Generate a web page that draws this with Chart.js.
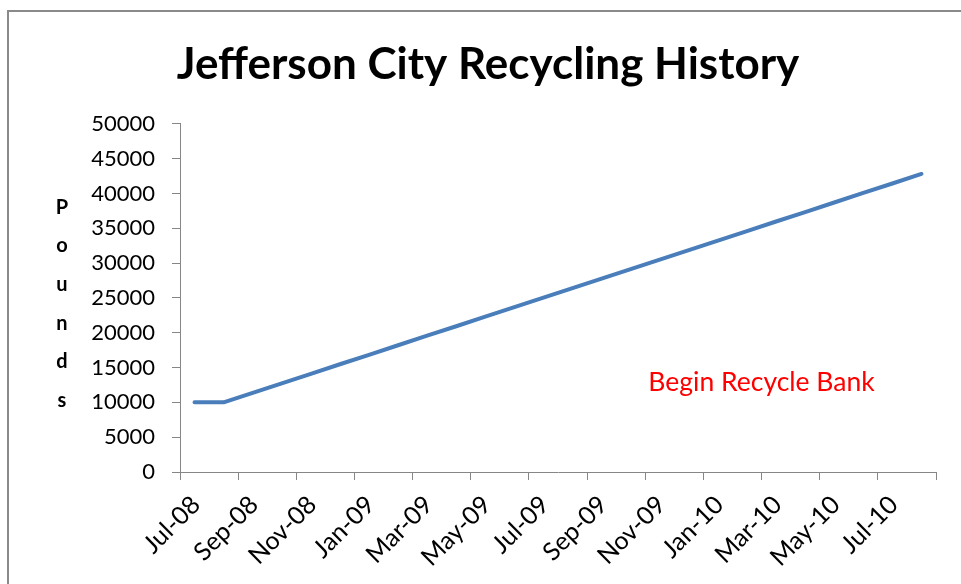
<!DOCTYPE html>
<html>
<head>
<meta charset="utf-8">
<title>Jefferson City Recycling History</title>
<script src="https://cdn.jsdelivr.net/npm/chart.js@4/dist/chart.umd.min.js"></script>
<style>
    html, body { margin: 0; padding: 0; background: #fff; }
    #wrap { position: relative; width: 961px; height: 584px; overflow: hidden; }
    #frame {
        position: absolute; left: 7px; top: 10px; width: 1000px; height: 700px;
        border-left: 2px solid #8a8a8a; border-top: 2px solid #8a8a8a;
        pointer-events: none;
    }
</style>
</head>
<body>
<div id="wrap">
    <canvas id="recyclingChart" width="961" height="584"></canvas>
    <div id="frame"></div>
</div>
<script>
// Monthly data, Jul-08 .. Aug-10
const months = ['Jul-08', 'Aug-08', 'Sep-08', 'Oct-08', 'Nov-08', 'Dec-08',
    'Jan-09', 'Feb-09', 'Mar-09', 'Apr-09', 'May-09', 'Jun-09',
    'Jul-09', 'Aug-09', 'Sep-09', 'Oct-09', 'Nov-09', 'Dec-09',
    'Jan-10', 'Feb-10', 'Mar-10', 'Apr-10', 'May-10', 'Jun-10',
    'Jul-10', 'Aug-10'];
const pounds = [10000, 10000, 11370, 12730, 14100, 15470,
    16830, 18200, 19570, 20930, 22300, 23670,
    25030, 26400, 27770, 29130, 30500, 31870,
    33230, 34600, 35970, 37330, 38700, 40070,
    41430, 42800];
// Axis labels every two months (last tick at Sep-10 has no label)
const tickLabels = ['Jul-08', 'Sep-08', 'Nov-08', 'Jan-09', 'Mar-09', 'May-09', 'Jul-09',
    'Sep-09', 'Nov-09', 'Jan-10', 'Mar-10', 'May-10', 'Jul-10', ''];
const yTitle = ['P', 'o', 'u', 'n', 'd', 's'];
const noteText = 'Begin Recycle Bank';

const FONT = 'Lato, "Open Sans", sans-serif';

// points sit in the middle of each month slot (date axis, between tick marks)
const points = pounds.map((v, i) => ({ x: i + 0.5, y: v, month: months[i] }));

// draws the stacked "Pounds" title and the red text box
const extraText = {
    id: 'extraText',
    afterDraw(chart) {
        const c = chart.ctx;
        const area = chart.chartArea;
        c.save();
        c.fillStyle = '#000';
        c.font = 'bold 20px ' + FONT;
        c.textAlign = 'center';
        c.textBaseline = 'middle';
        const mid = (area.top + area.bottom) / 2 + 6;
        const step = 38.6;
        yTitle.forEach((ch, i) => {
            c.fillText(ch, 62, mid + (i - (yTitle.length - 1) / 2) * step);
        });

        const xs = chart.scales.x;
        const ys = chart.scales.y;
        c.fillStyle = '#ff0000';
        c.font = '26.5px ' + FONT;
        c.fillText(noteText, xs.getPixelForValue(20), ys.getPixelForValue(12800));
        c.restore();
    }
};

const ctx = document.getElementById('recyclingChart').getContext('2d');
new Chart(ctx, {
    type: 'line',
    data: {
        datasets: [{
            label: 'Pounds',
            data: points,
            borderColor: '#4a7ebb',
            borderWidth: 4,
            borderCapStyle: 'round',
            borderJoinStyle: 'round',
            pointRadius: 0,
            fill: false,
            tension: 0
        }]
    },
    options: {
        responsive: false,
        animation: false,
        layout: {
            padding: { top: 0, left: 40, right: 25, bottom: 0 }
        },
        plugins: {
            legend: { display: false },
            tooltip: { enabled: false },
            title: {
                display: true,
                text: 'Jefferson City Recycling History',
                color: '#000',
                font: { family: FONT, size: 44, weight: 'bold', lineHeight: 1.2 },
                padding: { top: 38, bottom: 33 }
            }
        },
        scales: {
            x: {
                type: 'linear',
                min: 0,
                max: 26,
                afterFit: (scale) => {
                    scale.height = 112;
                    scale.paddingLeft = 0;
                    scale.paddingRight = 0;
                },
                afterBuildTicks: (scale) => {
                    scale.ticks = tickLabels.map((t, i) => ({ value: i * 2 }));
                },
                border: { color: '#868686', width: 1 },
                grid: { drawOnChartArea: false, drawTicks: true, tickLength: 8, color: '#868686' },
                ticks: {
                    autoSkip: false,
                    maxRotation: 45,
                    minRotation: 45,
                    padding: 10,
                    labelOffset: 16,
                    color: '#000',
                    font: { family: FONT, size: 25 },
                    callback: (value) => tickLabels[Math.round(value / 2)]
                }
            },
            y: {
                min: 0,
                max: 50000,
                afterFit: (scale) => { scale.width = 140; },
                border: { color: '#868686', width: 1 },
                grid: { drawOnChartArea: false, drawTicks: true, tickLength: 8, color: '#868686' },
                ticks: {
                    stepSize: 5000,
                    padding: 17,
                    color: '#000',
                    font: { family: FONT, size: 22 },
                    callback: (value) => String(value)
                }
            }
        }
    },
    plugins: [extraText]
});
</script>
</body>
</html>
